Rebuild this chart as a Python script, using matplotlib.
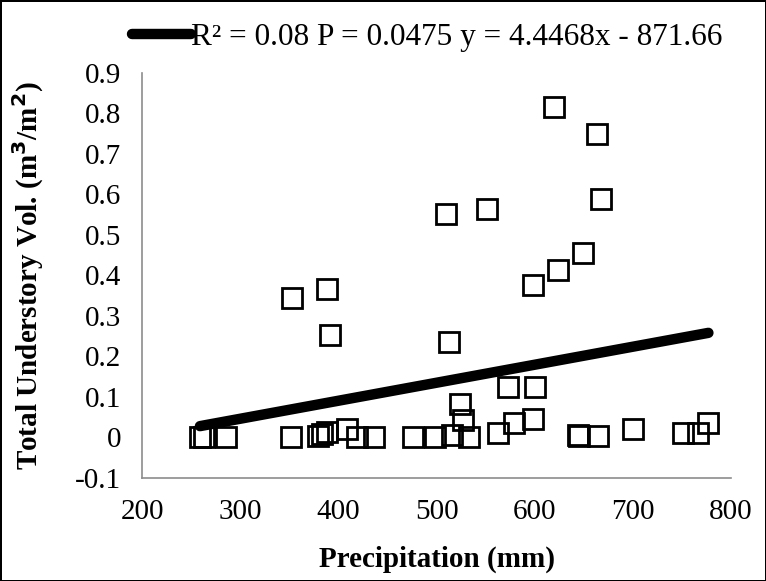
import matplotlib.pyplot as plt
import numpy as np

# precipitation (mm) and total understory volume (m3/m2)
precip = [259, 263, 286, 352, 379, 383, 388, 409, 419, 436, 476, 498,
          516, 527, 533, 563, 579, 598, 644, 645, 665, 700, 751, 766, 777,
          524, 573, 600,
          353, 388, 392, 510, 513, 551, 598, 620, 624, 649, 664, 668]
volume = [0.0, 0.0, 0.0, 0.0, 0.003, 0.008, 0.013, 0.022, 0.0, 0.0, 0.0, 0.0,
          0.005, 0.042, 0.001, 0.011, 0.037, 0.045, 0.006, 0.003, 0.004, 0.022,
          0.011, 0.011, 0.037,
          0.082, 0.125, 0.125,
          0.345, 0.367, 0.253, 0.552, 0.236, 0.563, 0.377, 0.815, 0.413, 0.455,
          0.75, 0.589]

# trend line as printed in the legend (x scaled by 1e4)
slope, intercept = 4.4468, -871.66
legend_text = "R\u00b2 = 0.08 P = 0.0475 y = 4.4468x - 871.66"

plt.rcParams['font.family'] = ['Liberation Serif', 'DejaVu Serif']

fig = plt.figure(figsize=(7.66, 5.81), dpi=100)
fig.patch.set_edgecolor('black')
fig.patch.set_linewidth(2)
ax = fig.add_axes([0.1854, 0.1773, 0.7689, 0.6971])

ax.plot(precip, volume, linestyle='none', marker='s', markersize=14,
        markerfacecolor='none', markeredgecolor='black', markeredgewidth=2,
        zorder=2)

xs = np.array([min(precip), max(precip)])
ax.plot(xs, (slope * xs + intercept) / 1e4, color='black', linewidth=7.5,
        solid_capstyle='round', zorder=3, label=legend_text)

ax.set_xlim(200, 800)
ax.set_ylim(-0.1, 0.9)
ax.set_xticks(np.arange(200, 801, 100))
ax.set_yticks(np.round(np.arange(-0.1, 0.91, 0.1), 1))
ax.set_yticklabels(['-0.1', '0', '0.1', '0.2', '0.3', '0.4', '0.5', '0.6',
                    '0.7', '0.8', '0.9'])
ax.tick_params(length=0, labelsize=21)
ax.tick_params(axis='x', pad=15)
ax.tick_params(axis='y', pad=15)

for side in ['top', 'right']:
    ax.spines[side].set_visible(False)
for side in ['left', 'bottom']:
    ax.spines[side].set_color('#8c8c8c')
    ax.spines[side].set_linewidth(1.2)

ax.set_xlabel('Precipitation (mm)', fontsize=21, fontweight='bold')
ax.set_ylabel('Total Understory Vol. (m$^\\mathbf{3}$/m$^\\mathbf{2}$)',
              fontsize=21, fontweight='bold')
ax.xaxis.set_label_coords(0.5, -0.167)
ax.yaxis.set_label_coords(-0.163, 0.5)

fig.legend(loc='center', bbox_to_anchor=(0.558, 0.936), frameon=False,
           fontsize=22.5, handlelength=1.9, handletextpad=0.0)

fig.savefig('out.png', dpi=100, edgecolor=fig.get_edgecolor())
